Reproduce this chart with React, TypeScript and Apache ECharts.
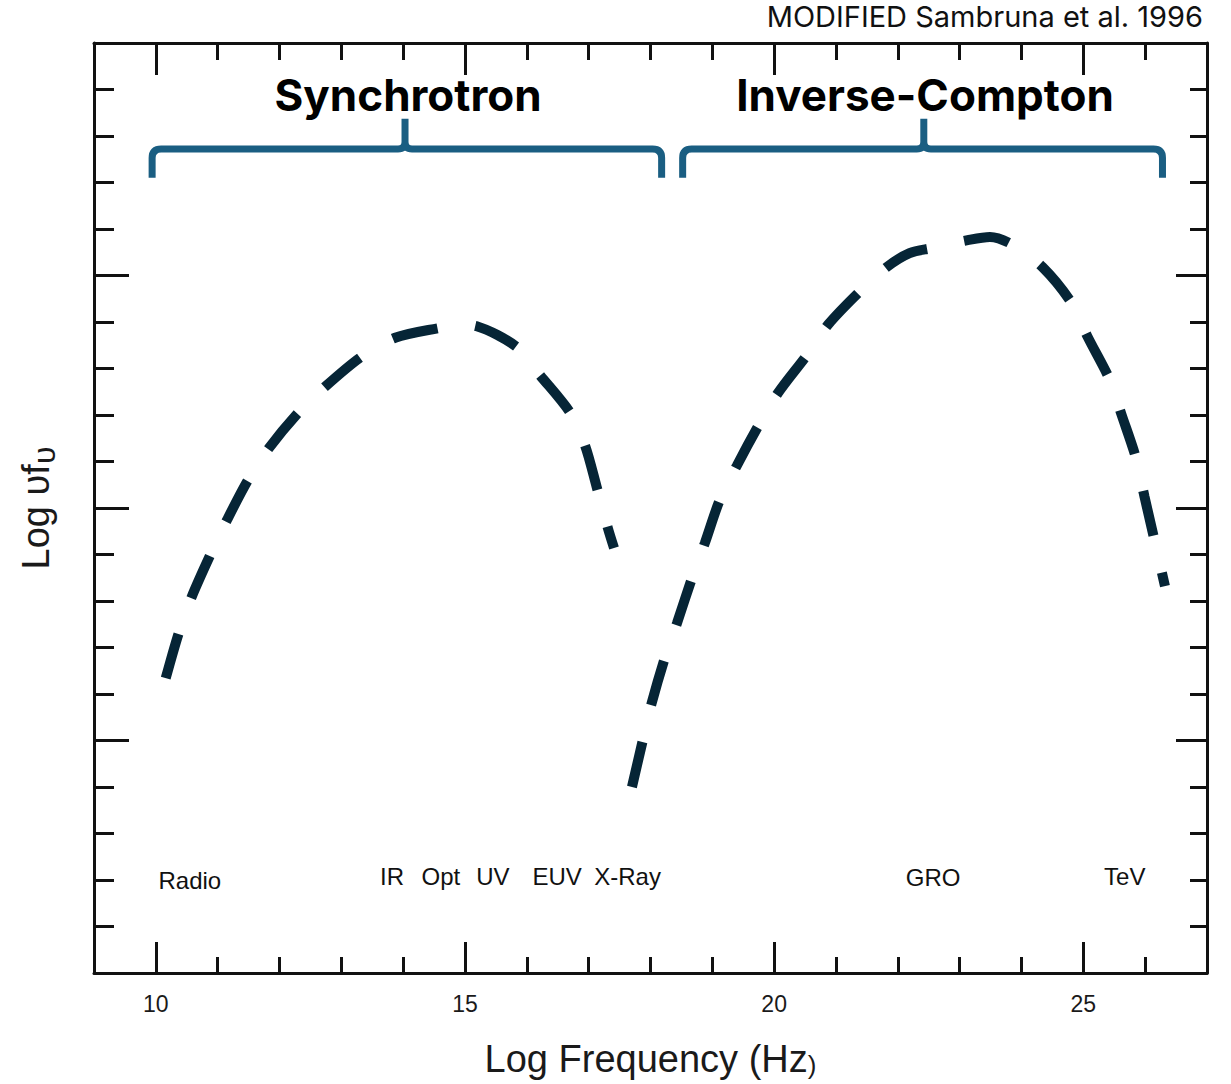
import React, { useEffect, useRef } from "react";
import * as echarts from "echarts";

// ---- Axis ticks ----
const xMinorTicks = [10, 11, 12, 13, 14, 15, 16, 17, 18, 19, 20, 21, 22, 23, 24, 25, 26];
const xMajorTicks = [10, 15, 20, 25];
const xTickLabels = [10, 15, 20, 25];
const yMinorTicks = [1, 2, 3, 4, 5, 6, 7, 8, 9, 10, 11, 12, 13, 14, 15, 16, 17, 18, 19];
const yMajorTicks = [5, 10, 15];

// ---- Curves (log frequency, log nu f_nu) ----
const synchrotron: number[][] = [
  [10.16, 6.34], [10.37, 7.31], [10.58, 8.09], [10.88, 8.99], [11.15, 9.74],
  [11.49, 10.6], [11.83, 11.29], [12.31, 12.06], [12.73, 12.6], [13.32, 13.25],
  [13.87, 13.66], [14.58, 13.87], [14.92, 13.94], [15.19, 13.91], [15.84, 13.46],
  [16.21, 12.86], [16.7, 12.05], [16.94, 11.35], [17.13, 10.45], [17.31, 9.57],
  [17.41, 9.14],
];
const inverseCompton: number[][] = [
  [17.7, 4.0], [17.88, 5.03], [18.02, 5.81], [18.23, 6.77], [18.43, 7.53],
  [18.67, 8.49], [18.88, 9.25], [19.12, 10.17], [19.4, 10.92], [19.75, 11.78],
  [20.06, 12.47], [20.53, 13.29], [20.87, 13.94], [21.38, 14.65], [21.82, 15.18],
  [22.19, 15.48], [22.55, 15.59], [23.13, 15.76], [23.49, 15.83], [23.86, 15.66],
  [24.34, 15.18], [24.81, 14.41], [25.07, 13.68], [25.43, 12.75], [25.62, 12.0],
  [25.85, 11.08], [25.99, 10.24], [26.15, 9.31], [26.32, 8.32],
];

// ---- Band labels ----
const bandNames = ["Radio", "IR", "Opt", "UV", "EUV", "X-Ray", "GRO", "TeV"];
const bandX = [10.55, 13.82, 14.61, 15.45, 16.49, 17.63, 22.57, 25.67];
const bandY = [2.0, 2.08, 2.08, 2.08, 2.08, 2.08, 2.06, 2.08];

// ---- Component braces ----
const componentNames = ["Synchrotron", "Inverse-Compton"];
const componentX = [14.08, 22.44];
const componentY = [18.88, 18.88];
const braceStart = [9.94, 18.52];
const braceMid = [14.03, 22.42];
const braceEnd = [18.18, 26.28];
const braceLineY = [17.72, 17.72];
const braceFootY = [17.1, 17.1];
const braceTipY = [18.37, 18.37];

const SOURCE_NOTE = "MODIFIED Sambruna et al. 1996";

const AX = "#111111";
const CURVE = "#062536";
const BRACE = "#1a5e82";

function xAxisDef(position: string, ticks: number[], len: number, showLine: boolean, extra: any = {}) {
  return {
    type: "value",
    position,
    min: 9,
    max: 27,
    splitLine: { show: false },
    axisLine: { show: showLine, onZero: false, lineStyle: { color: AX, width: 3 } },
    axisTick: { show: true, inside: true, length: len, customValues: ticks, lineStyle: { color: AX, width: 3 } },
    axisLabel: { show: false },
    ...extra,
  };
}
function yAxisDef(position: string, ticks: number[], len: number, showLine: boolean, extra: any = {}) {
  return {
    type: "value",
    position,
    min: 0,
    max: 20,
    splitLine: { show: false },
    axisLine: { show: showLine, onZero: false, lineStyle: { color: AX, width: 3 } },
    axisTick: { show: true, inside: true, length: len, customValues: ticks, lineStyle: { color: AX, width: 3 } },
    axisLabel: { show: false },
    ...extra,
  };
}

export default function App() {
  const ref = useRef<HTMLDivElement>(null);
  useEffect(() => {
    document.body.style.margin = "0";
    if (!ref.current) return;
    const chart = echarts.init(ref.current, null, { renderer: "svg" });
    const braceData = braceStart.map((s, i) => [s, braceMid[i], braceEnd[i], braceLineY[i], braceFootY[i], braceTipY[i]]);
    chart.setOption({
      animation: false,
      backgroundColor: "#ffffff",
      title: {
        text: SOURCE_NOTE,
        right: 28,
        top: 2,
        padding: 0,
        textStyle: { fontFamily: "Inter", fontWeight: "normal", fontSize: 29, color: "#111" },
      },
      grid: { left: 94, top: 43, width: 1113, height: 930, outerBoundsMode: "none" },
      xAxis: [
        xAxisDef("bottom", xMinorTicks, 16, true, {
          name: "Log Frequency (Hz{s|)}",
          nameLocation: "middle",
          nameGap: 67,
          nameMoveOverlap: false,
          nameTextStyle: {
            fontFamily: "Liberation Sans",
            fontSize: 38,
            color: "#1a1a1a",
            rich: { s: { fontFamily: "Liberation Sans", fontSize: 26, color: "#1a1a1a", verticalAlign: "bottom" } },
          },
          axisLabel: {
            show: true,
            customValues: xTickLabels,
            margin: 19,
            fontFamily: "Liberation Sans",
            fontSize: 23,
            color: "#1a1a1a",
          },
        }),
        xAxisDef("bottom", xMajorTicks, 31, false),
        xAxisDef("top", xMinorTicks, 17, true),
        xAxisDef("top", xMajorTicks, 32, false),
      ],
      yAxis: [
        yAxisDef("left", yMinorTicks, 20, true, {
          name: "{m|Log υf}{s|υ}",
          nameLocation: "middle",
          nameRotate: 90,
          nameGap: 34,
          nameMoveOverlap: false,
          nameTextStyle: {
            fontFamily: "Liberation Sans",
            fontSize: 38,
            color: "#1a1a1a",
            rich: {
              m: { fontFamily: "Liberation Sans", fontSize: 38, color: "#1a1a1a", lineHeight: 48, verticalAlign: "middle" },
              s: { fontFamily: "Liberation Sans", fontSize: 32, color: "#1a1a1a", lineHeight: 32, verticalAlign: "bottom" },
            },
          },
        }),
        yAxisDef("left", yMajorTicks, 35, false),
        yAxisDef("right", yMinorTicks, 17, true),
        yAxisDef("right", yMajorTicks, 31, false),
      ],
      series: [
        {
          type: "line",
          name: "Synchrotron",
          data: synchrotron,
          smooth: 0.3,
          showSymbol: false,
          symbol: "none",
          silent: true,
          lineStyle: { color: CURVE, width: 10, type: [46, 38], cap: "butt" },
        },
        {
          type: "line",
          name: "Inverse-Compton",
          data: inverseCompton,
          smooth: 0.3,
          showSymbol: false,
          symbol: "none",
          silent: true,
          lineStyle: { color: CURVE, width: 10, type: [46, 38], cap: "butt" },
        },
        {
          type: "custom",
          name: "braces",
          silent: true,
          data: braceData,
          encode: { x: [0, 1, 2], y: [3, 4, 5] },
          renderItem: (_params: any, api: any) => {
            const [xl, yl] = api.coord([api.value(0), api.value(3)]);
            const [xm, yT] = api.coord([api.value(1), api.value(5)]);
            const [xr, yE] = api.coord([api.value(2), api.value(4)]);
            const r = 9;
            const s = 7;
            const d =
              `M${xl} ${yE} L${xl} ${yl + r} Q${xl} ${yl} ${xl + r} ${yl} L${xm - s} ${yl} Q${xm} ${yl} ${xm} ${yl - s} L${xm} ${yT} ` +
              `M${xm} ${yl - s} Q${xm} ${yl} ${xm + s} ${yl} L${xr - r} ${yl} Q${xr} ${yl} ${xr} ${yl + r} L${xr} ${yE}`;
            return {
              type: "path",
              shape: { pathData: d },
              style: { stroke: BRACE, lineWidth: 7, fill: "none", lineJoin: "round", lineCap: "butt" },
            };
          },
        },
        {
          type: "scatter",
          name: "bands",
          silent: true,
          symbolSize: 0,
          itemStyle: { opacity: 1 },
          data: bandNames.map((n, i) => ({ name: n, value: [bandX[i], bandY[i]] })),
          label: {
            show: true,
            position: "inside",
            formatter: "{b}",
            fontFamily: "Liberation Sans",
            fontSize: 24,
            color: "#111",
            opacity: 1,
          },
        },
        {
          type: "scatter",
          name: "components",
          silent: true,
          symbolSize: 0,
          itemStyle: { opacity: 1 },
          data: componentNames.map((n, i) => ({ name: n, value: [componentX[i], componentY[i]] })),
          label: {
            show: true,
            position: "inside",
            formatter: "{b}",
            fontFamily: "Inter",
            fontWeight: "bold",
            fontSize: 44,
            color: "#000",
            opacity: 1,
          },
        },
      ],
    });
    return () => chart.dispose();
  }, []);
  return <div ref={ref} style={{ width: 1231, height: 1084 }} />;
}
